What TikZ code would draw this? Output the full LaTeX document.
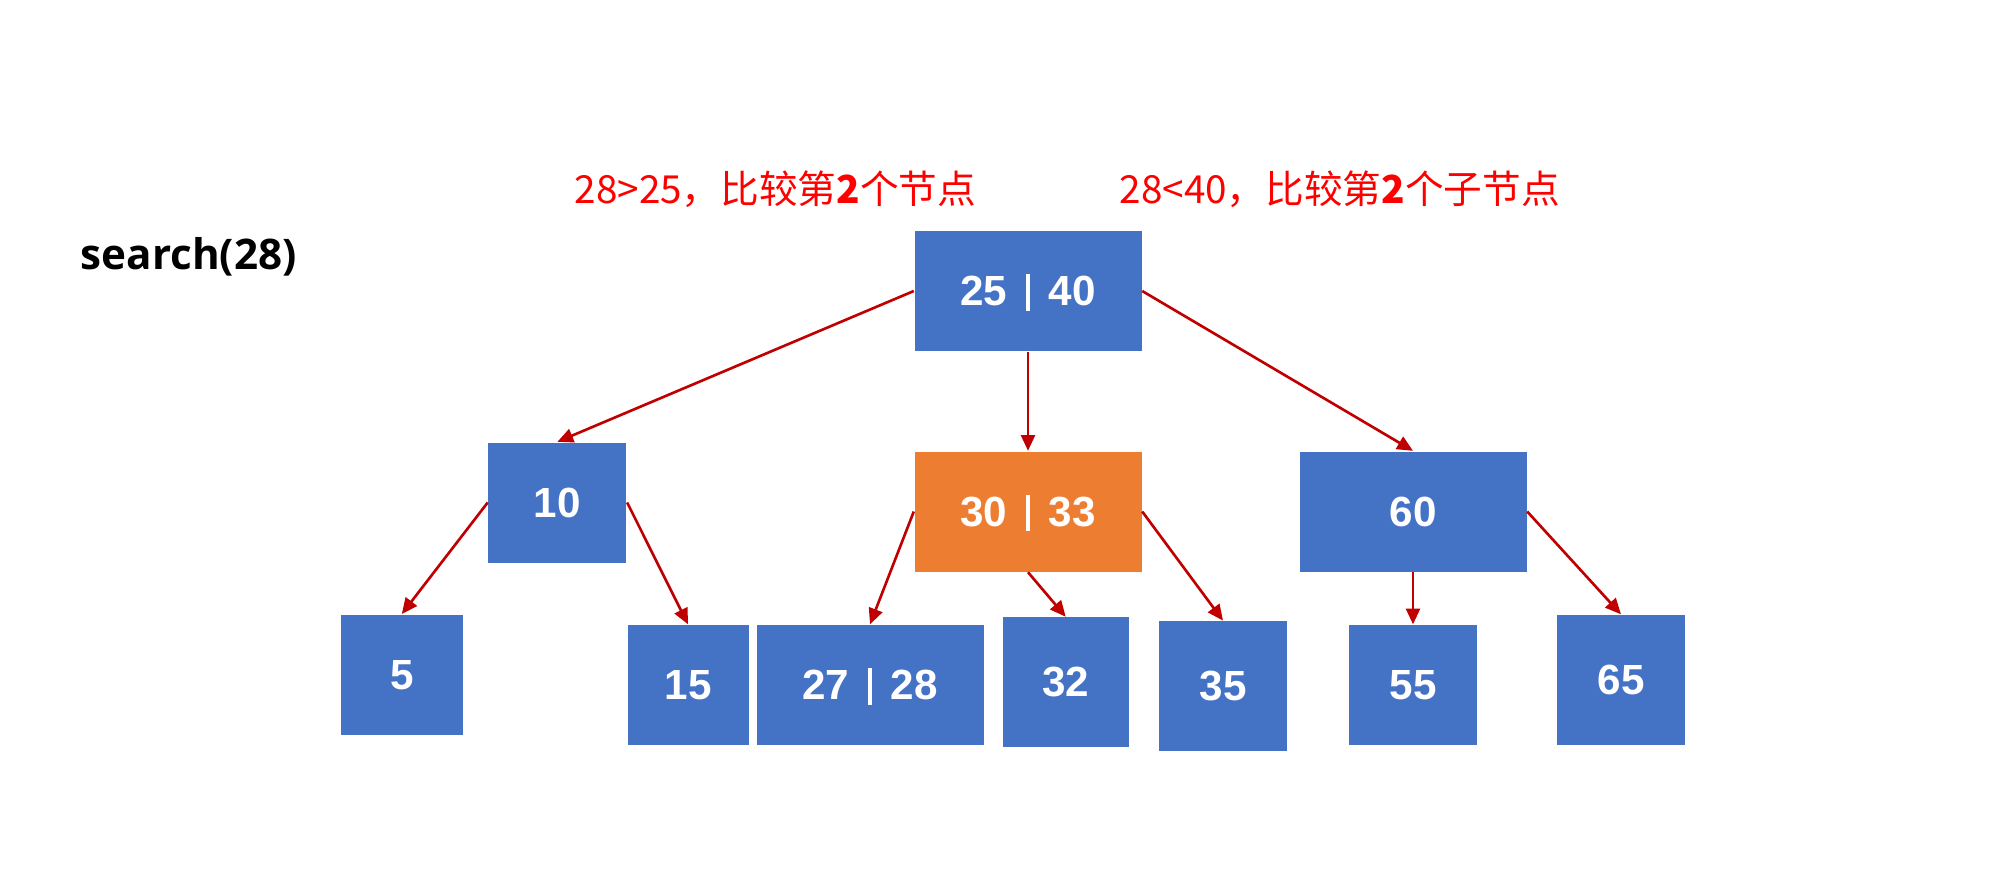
\documentclass[tikz,border=0pt]{standalone}
\usepackage{fontspec}
\setmainfont{Liberation Sans}
\newfontfamily\cjk{Noto Sans CJK SC}
\newfontfamily\titlefont{Open Sans}
\usetikzlibrary{arrows.meta}
\definecolor{boxblue}{HTML}{4472C4}
\definecolor{boxorange}{HTML}{ED7D31}
\definecolor{arrowred}{HTML}{C00000}
\newcommand\keysep{\hspace{0.45em}\smash{\rule[-0.12em]{1.1pt}{0.86em}}\hspace{0.45em}}
\tikzset{
  key/.style={fill=boxblue,text=white,font=\bfseries\fontsize{12}{14}\selectfont,
    inner sep=0pt,minimum height=1.2cm},
  hit/.style={key,fill=boxorange},
  link/.style={arrowred,line width=0.75pt,-{Triangle[length=4.5pt,width=4pt]}},
  note/.style={red,font=\cjk\fontsize{11}{13}\selectfont,inner sep=0pt,anchor=west}
}
\begin{document}
\begin{tikzpicture}
\useasboundingbox (0,0) rectangle (20,-8.79);

\node [font=\titlefont\bfseries\fontsize{12}{14}\selectfont,inner sep=0pt,anchor=west] (title) at (0.80,-2.57) {search(28)};
\node [note] (note1) at (5.74,-1.89) {28>25，比较第\textbf{2}个节点};
\node [note] (note2) at (11.19,-1.89) {28<40，比较第\textbf{2}个子节点};

% level 0
\node [key,minimum width=2.27cm] (root) at (10.28,-2.91) {25\keysep40};
% level 1
\node [key,minimum width=1.38cm] (n10) at (5.574,-5.025) {10};
\node [hit,minimum width=2.27cm] (n3033) at (10.28,-5.115) {30\keysep33};
\node [key,minimum width=2.27cm] (n60) at (14.13,-5.115) {60};
% level 2
\node [key,minimum width=1.22cm] (n5) at (4.018,-6.747) {5};
\node [key,minimum width=1.21cm] (n15) at (6.88,-6.85) {15};
\node [key,minimum width=2.27cm] (n2728) at (8.70,-6.85) {27\keysep28};
\node [key,minimum width=1.26cm,minimum height=1.3cm] (n32) at (10.657,-6.824) {32};
\node [key,minimum width=1.28cm,minimum height=1.3cm] (n35) at (12.23,-6.863) {35};
\node [key,minimum width=1.28cm] (n55) at (14.13,-6.85) {55};
\node [key,minimum width=1.28cm,minimum height=1.3cm] (n65) at (16.21,-6.80) {65};

\draw [link] (root.west) -- (n10.north);
\draw [link] (root.south) -- (n3033.north);
\draw [link] (root.east) -- (n60.north);
\draw [link] (n10.west) -- (n5.north);
\draw [link] (n10.east) -- (n15.north);
\draw [link] (n3033.west) -- (n2728.north);
\draw [link] (n3033.south) -- (n32.north);
\draw [link] (n3033.east) -- (n35.north);
\draw [link] (n60.south) -- (n55.north);
\draw [link] (n60.east) -- (n65.north);

\end{tikzpicture}
\end{document}
